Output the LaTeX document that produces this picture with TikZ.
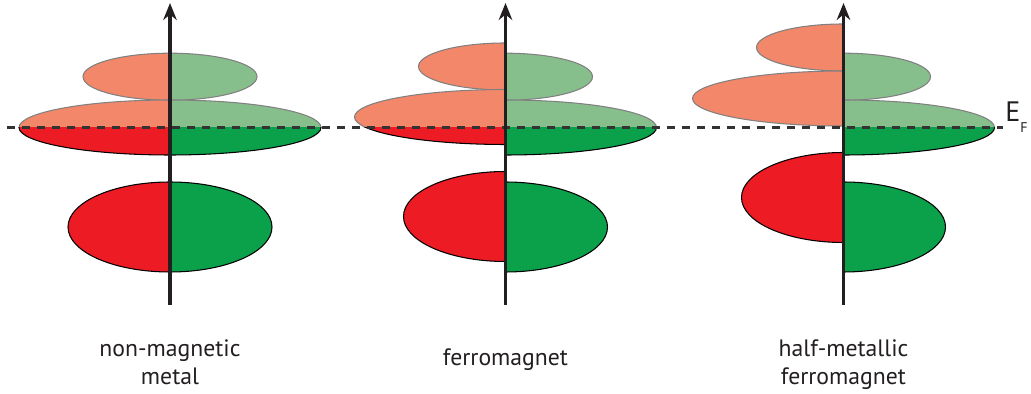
\documentclass[tikz,border=0pt]{standalone}
\usepackage{fontspec}
\setmainfont{PT Sans}
\usetikzlibrary{arrows.meta}

\definecolor{uplite}{HTML}{F3876A}
\definecolor{updark}{HTML}{ED1C24}
\definecolor{dnlite}{HTML}{86BF8C}
\definecolor{dndark}{HTML}{0BA14B}
\definecolor{inkgray}{HTML}{231F20}

% half bands: centre x / centre y / x radius / y radius / end angle / colour above E_F / colour below E_F
\newcommand{\halfbands}{%
  170/76.7/87/23.5/270/uplite/updark, 170/127.5/151/27.5/270/uplite/updark, 170/227/102/45/270/uplite/updark,
  170/76.7/87/23.5/-90/dnlite/dndark, 170/127.5/151/27.5/-90/dnlite/dndark, 170/227/102/45/-90/dnlite/dndark,
  505.5/66.5/87/23.5/270/uplite/updark, 505.5/117/151/27.5/270/uplite/updark, 505.5/216.5/102/45/270/uplite/updark,
  505.5/76.7/87/23.5/-90/dnlite/dndark, 505.5/127.5/151/27.5/-90/dnlite/dndark, 505.5/227/102/45/-90/dnlite/dndark,
  843.5/47.5/87/23.5/270/uplite/updark, 843.5/98.5/151/27.5/270/uplite/updark, 843.5/197.5/102/45/270/uplite/updark,
  843.5/76.7/87/23.5/-90/dnlite/dndark, 843.5/127.5/151/27.5/-90/dnlite/dndark, 843.5/227/102/45/-90/dnlite/dndark}

\begin{document}
\begin{tikzpicture}[
    x=0.02cm, y=-0.02cm,
    empty/.style={line width=0.6pt, draw=black!50},
    filled/.style={line width=0.6pt, draw=black},
    energy/.style={-{Stealth[length=0.34cm, width=0.27cm]}, line width=2pt, draw=inkgray},
    fermi/.style={line width=1.2pt, draw=black!80, dash pattern=on 0.17cm off 0.13cm},
    caption/.style={font=\fontsize{13.5}{16}\selectfont, align=center, text=inkgray, inner sep=0pt},
]
\useasboundingbox (0,0) rectangle (1031,394);

% ============================================================
% BANDS (light above E_F, dark below E_F)
% ============================================================
\begin{scope}
  \clip (0,0) rectangle (1031,127.5);
  \foreach \cx/\cy/\rx/\ry/\ea/\lite/\dark in \halfbands
    \filldraw[empty, fill=\lite] (\cx,\cy+\ry)
      arc[start angle=90, end angle=\ea, x radius=\rx, y radius=\ry] -- cycle;
\end{scope}
\begin{scope}
  \clip (0,127.5) rectangle (1031,394);
  \foreach \cx/\cy/\rx/\ry/\ea/\lite/\dark in \halfbands
    \filldraw[filled, fill=\dark] (\cx,\cy+\ry)
      arc[start angle=90, end angle=\ea, x radius=\rx, y radius=\ry] -- cycle;
\end{scope}

% --- Fermi level ---
\coordinate (efl) at (7,127.5);
\coordinate (efr) at (1003,127.5);
\draw[fermi] (efl) -- (efr);
\node[anchor=base west, inner sep=0pt, font=\fontsize{16}{16}\selectfont, text=inkgray] (ef)
  at (1005,121.7) {E\raisebox{-0.226cm}{\fontsize{8}{8}\selectfont F}};

% --- Energy axes ---
\coordinate (nmbot) at (170,305);   \coordinate (nmtop) at (170,3);
\coordinate (fmbot) at (505.5,305); \coordinate (fmtop) at (505.5,3);
\coordinate (hmbot) at (843.5,305); \coordinate (hmtop) at (843.5,3);
\draw[energy] (nmbot) -- (nmtop);
\draw[energy] (fmbot) -- (fmtop);
\draw[energy] (hmbot) -- (hmtop);

% --- Captions ---
\node[caption, anchor=base] (nmcap) at (170,385) {non-magnetic\\metal};
\node[caption, anchor=base] (fmcap) at (505.5,366) {ferromagnet};
\node[caption, anchor=base] (hmcap) at (843.5,385) {half-metallic\\ferromagnet};

\end{tikzpicture}
\end{document}
